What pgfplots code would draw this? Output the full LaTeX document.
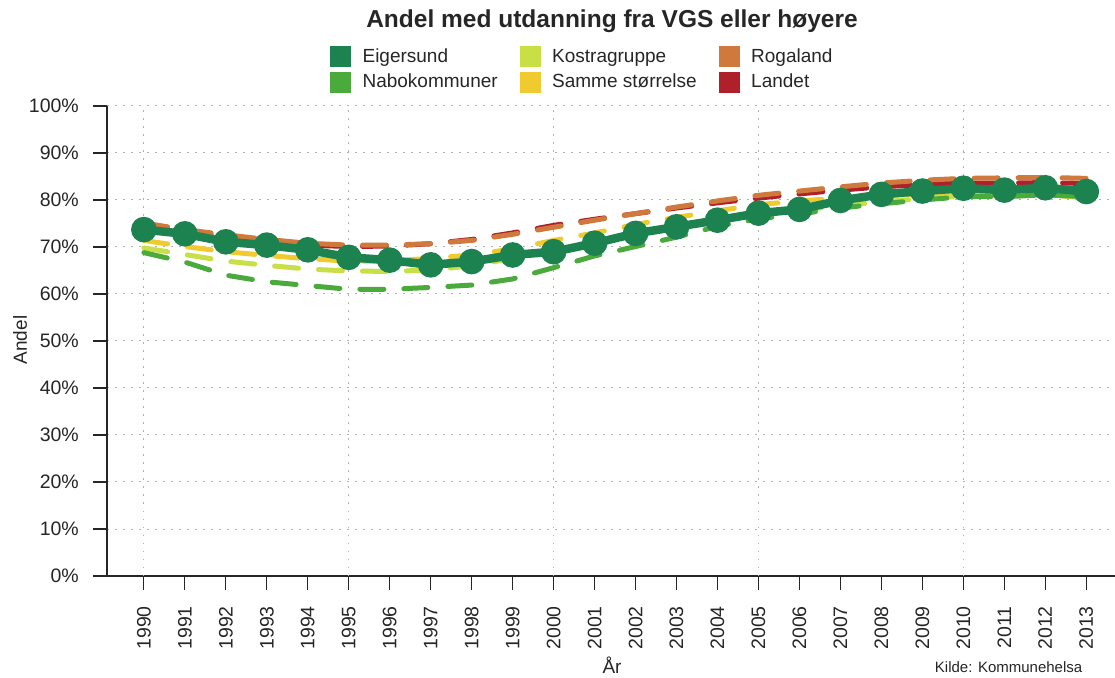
\documentclass[border=0pt]{standalone}
\usepackage{fontspec}
\setmainfont{Liberation Sans}
\usepackage{pgfplots}
\pgfplotsset{compat=1.18}
\usepackage{pgfplotstable}

\definecolor{eig}{HTML}{1C8250}
\definecolor{nabo}{HTML}{4BAA3C}
\definecolor{kostra}{HTML}{C8DF46}
\definecolor{samme}{HTML}{F0CB30}
\definecolor{roga}{HTML}{CF7A3C}
\definecolor{land}{HTML}{B0202A}
\definecolor{txt}{HTML}{262626}

\pgfplotstableread{
year eig  nabo kostra samme roga land
1990 73.7 68.8 69.8 71.4 75.1 74.8
1991 72.8 66.8 68.4 70.1 73.7 73.4
1992 71.1 64.0 67.0 69.0 72.6 72.2
1993 70.4 62.6 66.1 68.2 71.6 71.2
1994 69.4 61.8 65.3 67.5 70.8 70.4
1995 67.8 61.0 64.9 67.0 70.4 70.1
1996 67.2 61.0 64.8 67.0 70.4 70.2
1997 66.2 61.4 65.1 67.6 70.7 70.7
1998 66.9 61.9 66.0 68.3 71.4 71.6
1999 68.3 63.2 67.6 69.6 72.7 73.0
2000 69.0 65.6 69.5 71.4 74.2 74.6
2001 70.8 68.1 71.2 73.0 75.7 75.9
2002 72.9 70.1 72.9 74.8 77.1 77.1
2003 74.3 72.1 74.3 76.3 78.5 78.3
2004 75.7 74.4 75.6 77.7 79.8 79.4
2005 77.2 76.0 76.8 79.0 81.0 80.4
2006 78.0 77.0 77.8 79.8 81.9 81.3
2007 79.9 78.3 78.8 80.4 82.8 82.1
2008 81.2 79.2 79.6 80.9 83.6 82.8
2009 81.9 80.0 80.3 81.3 84.2 83.3
2010 82.5 80.7 80.8 81.5 84.6 83.6
2011 82.1 80.7 80.9 81.4 84.7 83.6
2012 82.6 81.1 81.1 81.2 84.8 83.7
2013 81.8 80.7 80.5 80.6 84.6 83.5
}\data

\begin{document}
\begin{tikzpicture}
\useasboundingbox (0pt,0pt) rectangle (1115pt,677pt);
\begin{axis}[
  at={(107pt,101pt)}, anchor=south west,
  scale only axis, width=1008pt, height=470pt,
  xmin=1989.1, xmax=2013.7, ymin=0, ymax=100,
  axis x line*=bottom, axis y line*=left,
  axis line style={-, line width=1.3pt, color=black!85},
  xtick={1990,...,2013}, ytick={0,10,...,100},
  tick align=outside, major tick length=14pt,
  tick style={line width=1.2pt, color=black!85},
  /pgf/number format/assume math mode=true,
  /pgf/number format/1000 sep={},
  yticklabel={\pgfmathprintnumber{\tick}\%},
  tick label style={font=\fontsize{19.5}{22}\selectfont, color=txt},
  xticklabel style={rotate=90, anchor=east, inner xsep=16pt},
  yticklabel style={inner xsep=14pt},
  ymajorgrids=true, xmajorgrids=false,
  extra x ticks={1990,1995,2000,2005,2010},
  extra x tick labels={},
  extra x tick style={grid=major, major tick length=0pt},
  major grid style={color=black!30, line width=1pt, dash pattern=on 1.5pt off 6.5pt},
  title={Andel med utdanning fra VGS eller høyere},
  title style={at={(axis description cs:0.501,1.168)}, anchor=center,
    font=\fontsize{24.5}{28}\selectfont\bfseries, color=txt},
  xlabel={År},
  xlabel style={at={(axis description cs:0.501,-0.189)}, anchor=center,
    font=\fontsize{19}{22}\selectfont, color=txt},
  ylabel={Andel},
  ylabel style={at={(axis description cs:-0.0863,0.502)}, anchor=center,
    font=\fontsize{19}{22}\selectfont, color=txt},
  legend columns=2, transpose legend,
  legend image code/.code={\fill[#1] (0pt,-10pt) rectangle (20pt,10pt);},
  legend style={at={(axis description cs:0.2212,1.1277)}, anchor=north west,
    draw=none, fill=none, inner sep=0pt, row sep=5pt,
    font=\fontsize{19}{22}\selectfont, text=txt,
    nodes={inner xsep=2pt, inner ysep=0pt},
    /tikz/every odd column/.append style={column sep=10pt},
    /tikz/every even column/.append style={column sep=20pt}},
  legend cell align=left,
  clip=false,
]
\addplot[forget plot, land, line width=5pt, dash pattern=on 24pt off 20pt, line cap=round] table[x=year,y=land] {\data};
\addplot[forget plot, roga, line width=5pt, dash pattern=on 24pt off 20pt, line cap=round] table[x=year,y=roga] {\data};
\addplot[forget plot, samme, line width=5pt, dash pattern=on 24pt off 20pt, line cap=round] table[x=year,y=samme] {\data};
\addplot[forget plot, kostra, line width=5pt, dash pattern=on 24pt off 20pt, line cap=round] table[x=year,y=kostra] {\data};
\addplot[forget plot, nabo, line width=5pt, dash pattern=on 24pt off 20pt, line cap=round] table[x=year,y=nabo] {\data};
\addplot[forget plot, eig, line width=8.5pt, mark=*, mark size=8.5pt, mark options={solid}] table[x=year,y=eig] {\data};

\addlegendimage{eig}\addlegendentry{Eigersund}
\addlegendimage{nabo}\addlegendentry{Nabokommuner}
\addlegendimage{kostra}\addlegendentry{Kostragruppe}
\addlegendimage{samme}\addlegendentry{Samme størrelse}
\addlegendimage{roga}\addlegendentry{Rogaland}
\addlegendimage{land}\addlegendentry{Landet}

\node[anchor=east, font=\fontsize{15}{18}\selectfont, text=txt] at (axis description cs:0.971,-0.1936) {Kilde: Kommunehelsa};
\end{axis}
\end{tikzpicture}
\end{document}
